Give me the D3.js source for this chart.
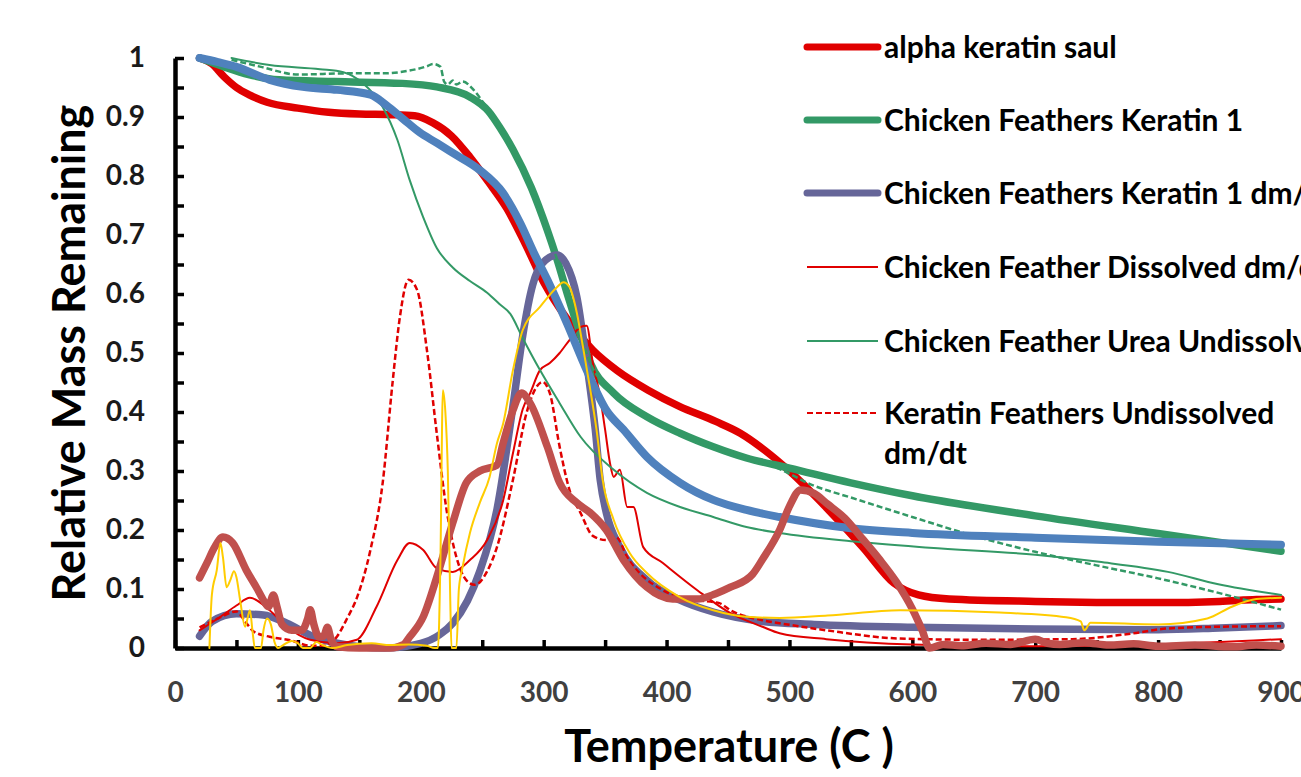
<!DOCTYPE html>
<html><head><meta charset="utf-8">
<script src="https://cdn.jsdelivr.net/npm/d3@7"></script>
<style>
body{margin:0;background:#fff}
svg{display:block}
text{font-family:Lato,"Open Sans",sans-serif;font-weight:700}
</style>
</head><body><svg id="chart" width="1301" height="777"></svg>
<script>
// ---------- data (temperature °C, relative value) ----------
const xTickLabels = ["0","100","200","300","400","500","600","700","800","900"];
const yTickLabels = ["0","0.1","0.2","0.3","0.4","0.5","0.6","0.7","0.8","0.9","1"];

const alphaKeratinSaul = [[20,1.0],[30,0.99],[40,0.968],[50,0.95],[60,0.938],[75,0.925],[100,0.915],[125,0.908],[150,0.905],[175,0.904],[195,0.902],[210,0.89],[225,0.868],[240,0.832],[255,0.79],[270,0.745],[285,0.685],[300,0.62],[320,0.555],[340,0.505],[360,0.47],[385,0.437],[410,0.41],[440,0.384],[460,0.364],[480,0.335],[500,0.3],[530,0.238],[560,0.17],[585,0.11],[605,0.09],[630,0.083],[700,0.079],[800,0.077],[850,0.079],[880,0.082],[900,0.083]];

const cfKeratin1 = [[20,1.0],[40,0.985],[60,0.972],[85,0.963],[130,0.96],[185,0.957],[213,0.951],[240,0.934],[255,0.91],[265,0.88],[275,0.845],[290,0.78],[303,0.708],[311,0.658],[320,0.595],[330,0.53],[338,0.483],[357,0.432],[384,0.392],[411,0.364],[438,0.341],[465,0.322],[500,0.305],[550,0.28],[600,0.258],[700,0.224],[800,0.194],[900,0.164]];

const cfKeratin1dmdt = [[20,0.02],[30,0.045],[50,0.058],[72,0.056],[91,0.042],[112,0.02],[132,0.008],[170,0.0],[200,0.008],[215,0.022],[226,0.042],[238,0.08],[248,0.13],[262,0.235],[275,0.41],[283,0.53],[291,0.615],[299,0.652],[311,0.666],[318,0.652],[327,0.595],[335,0.483],[342,0.37],[346,0.285],[351,0.229],[362,0.171],[384,0.115],[411,0.081],[438,0.061],[478,0.045],[520,0.04],[600,0.035],[700,0.032],[800,0.031],[850,0.034],[900,0.038]];

const cfDissolvedDmdt = [[20,0.03],[37,0.053],[50,0.072],[61,0.085],[77,0.064],[91,0.036],[110,0.014],[132,0.008],[148,0.014],[164,0.07],[181,0.149],[191,0.178],[202,0.166],[213,0.135],[226,0.129],[240,0.149],[254,0.183],[267,0.25],[275,0.33],[283,0.405],[289,0.432],[297,0.471],[305,0.483],[313,0.5],[321,0.522],[330,0.544],[335,0.546],[340,0.483],[346,0.425],[350,0.37],[354,0.313],[357,0.29],[362,0.302],[368,0.239],[373,0.239],[381,0.171],[397,0.144],[425,0.098],[452,0.059],[478,0.036],[492,0.025],[530,0.015],[600,0.006],[700,0.003],[800,0.006],[900,0.015]];

const cfUreaUndissolved = [[46,1.0],[77,0.988],[118,0.981],[137,0.976],[153,0.957],[169,0.917],[181,0.861],[191,0.793],[202,0.73],[213,0.678],[226,0.645],[240,0.622],[254,0.602],[264,0.583],[273,0.566],[283,0.525],[297,0.471],[313,0.415],[330,0.358],[357,0.302],[384,0.263],[411,0.239],[438,0.222],[465,0.205],[492,0.195],[550,0.181],[614,0.17],[700,0.158],[752,0.146],[808,0.129],[849,0.108],[900,0.09]];

const kfUndissolvedDmdt = [[20,0.035],[35,0.05],[50,0.062],[57,0.045],[64,0.028],[77,0.019],[94,0.013],[110,0.004],[122,0.004],[132,0.02],[140,0.05],[148,0.085],[159,0.166],[169,0.28],[177,0.449],[183,0.561],[190,0.624],[197,0.607],[205,0.505],[213,0.364],[221,0.234],[229,0.154],[237,0.115],[244,0.107],[254,0.13],[262,0.171],[275,0.285],[286,0.398],[294,0.442],[299,0.451],[305,0.432],[313,0.341],[321,0.268],[330,0.229],[340,0.19],[351,0.183],[359,0.188],[368,0.154],[397,0.098],[425,0.081],[443,0.076],[452,0.064],[478,0.047],[492,0.042],[530,0.03],[590,0.016],[650,0.014],[730,0.015],[780,0.025],[807,0.033],[850,0.036],[900,0.037]];

const massBlue = [[20,1.0],[35,0.993],[50,0.985],[77,0.963],[104,0.951],[132,0.946],[159,0.938],[172,0.92],[186,0.896],[199,0.874],[213,0.856],[226,0.839],[248,0.81],[267,0.771],[281,0.72],[292,0.67],[303,0.624],[319,0.55],[335,0.471],[351,0.403],[365,0.37],[384,0.324],[411,0.28],[438,0.251],[465,0.234],[492,0.222],[550,0.203],[600,0.195],[700,0.187],[800,0.18],[900,0.175]];

const massGreenDashed = [[46,0.997],[70,0.985],[100,0.972],[142,0.974],[169,0.974],[189,0.978],[205,0.986],[210,0.99],[216,0.985],[219,0.96],[222,0.955],[226,0.962],[229,0.955],[234,0.96],[243,0.946],[251,0.924],[262,0.89],[275,0.845],[290,0.78],[303,0.708],[311,0.658],[320,0.595],[330,0.53],[338,0.483],[357,0.432],[384,0.392],[411,0.364],[438,0.341],[465,0.322],[490,0.305],[520,0.275],[550,0.255],[600,0.222],[650,0.19],[700,0.163],[750,0.14],[800,0.118],[850,0.093],[900,0.065]];

const dmdtBrown = [[20,0.119],[26,0.144],[32,0.17],[39,0.188],[47,0.178],[58,0.132],[67,0.1],[72,0.081],[76,0.07],[80,0.09],[83,0.07],[87,0.04],[95,0.03],[103,0.03],[108,0.05],[110,0.065],[113,0.04],[117,0.019],[121,0.02],[124,0.035],[127,0.015],[132,0.002],[150,0.0],[175,0.0],[186,0.006],[191,0.019],[202,0.053],[213,0.12],[226,0.212],[237,0.28],[248,0.3],[262,0.31],[267,0.347],[275,0.403],[282,0.432],[289,0.415],[303,0.341],[313,0.28],[327,0.246],[338,0.229],[351,0.2],[365,0.149],[384,0.103],[405,0.083],[425,0.083],[440,0.092],[452,0.103],[470,0.125],[478,0.15],[492,0.2],[500,0.24],[509,0.268],[520,0.262],[531,0.244],[545,0.22],[559,0.186],[573,0.151],[587,0.112],[600,0.066],[608,0.03],[614,0.0],[625,0.006],[640,0.004],[660,0.008],[680,0.006],[700,0.015],[710,0.008],[720,0.006],[740,0.009],[760,0.005],[780,0.007],[800,0.003],[830,0.005],[860,0.002],[880,0.005],[900,0.003]];

const dmdtYellow = [[28,0.0],[30,0.09],[34,0.132],[37,0.178],[39,0.154],[42,0.103],[45,0.115],[48,0.13],[50,0.12],[53,0.081],[57,0.036],[61,0.064],[63,0.03],[65,0.0],[70,0.0],[72,0.03],[75,0.05],[78,0.04],[81,0.01],[84,0.0],[88,0.005],[95,0.012],[100,0.008],[104,0.0],[110,0.0],[115,0.01],[120,0.005],[128,0.0],[140,0.005],[160,0.008],[175,0.005],[190,0.006],[205,0.004],[211,0.0],[214,0.0],[216,0.15],[218,0.437],[220,0.4],[222,0.3],[224,0.08],[225,0.0],[229,0.0],[231,0.1],[234,0.137],[240,0.195],[248,0.246],[256,0.29],[262,0.347],[267,0.38],[275,0.471],[283,0.539],[297,0.578],[311,0.612],[316,0.62],[321,0.612],[327,0.568],[332,0.51],[338,0.437],[343,0.37],[348,0.285],[357,0.217],[370,0.161],[384,0.127],[411,0.086],[438,0.064],[465,0.053],[492,0.051],[531,0.055],[590,0.064],[671,0.06],[725,0.052],[737,0.045],[740,0.03],[745,0.043],[800,0.04],[840,0.05],[860,0.07],[880,0.083],[900,0.085]];

// ---------- series styling (drawing order = later on top) ----------
const series = [
  {name:"alpha keratin saul", data:alphaKeratinSaul, color:"#e00000", width:7.5, dash:null},
  {name:"Chicken Feathers Keratin 1", data:cfKeratin1, color:"#339966", width:7.5, dash:null},
  {name:"Chicken Feathers Keratin 1 dm/dt", data:cfKeratin1dmdt, color:"#666699", width:7.5, dash:null},
  {name:"Chicken Feather Dissolved dm/dt", data:cfDissolvedDmdt, color:"#e00000", width:2, dash:null},
  {name:"Chicken Feather Urea Undissolved", data:cfUreaUndissolved, color:"#339966", width:2, dash:null},
  {name:"Keratin Feathers Undissolved dm/dt", data:kfUndissolvedDmdt, color:"#e00000", width:2.5, dash:"6,3"},
  {name:"mass green dashed", data:massGreenDashed, color:"#339966", width:2.5, dash:"6,3"},
  {name:"mass blue", data:massBlue, color:"#4f81bd", width:8, dash:null},
  {name:"dmdt brown", data:dmdtBrown, color:"#c0504d", width:7.5, dash:null},
  {name:"dmdt yellow", data:dmdtYellow, color:"#ffcc00", width:2, dash:null}
];
const legendEntries = [
  {lines:["alpha keratin saul"], s:0},
  {lines:["Chicken Feathers Keratin 1"], s:1},
  {lines:["Chicken Feathers Keratin 1 dm/dt"], s:2},
  {lines:["Chicken Feather Dissolved dm/dt"], s:3},
  {lines:["Chicken Feather Urea Undissolved"], s:4},
  {lines:["Keratin Feathers Undissolved","dm/dt"], s:5}
];

// ---------- chart ----------
const svg = d3.select("#chart");
const x = d3.scaleLinear().domain([0,900]).range([175,1281]);
const y = d3.scaleLinear().domain([0,1]).range([648,58]);

const yTickVals = d3.range(0,21).map(i=>i*0.05);
const xTickVals = d3.range(0,19).map(i=>i*50);

const yAxis = d3.axisLeft(y).tickValues(yTickVals).tickSize(-9).tickSizeOuter(0).tickPadding(30)
  .tickFormat((d,i)=> i%2===0 ? yTickLabels[i/2] : "");
const xAxis = d3.axisBottom(x).tickValues(xTickVals).tickSize(-8).tickSizeOuter(0).tickPadding(34)
  .tickFormat((d,i)=> i%2===0 ? xTickLabels[i/2] : "");

const gy = svg.append("g").attr("transform","translate(175,0)").call(yAxis);
const gx = svg.append("g").attr("transform","translate(0,648)").call(xAxis);
[gy,gx].forEach(g=>{
  g.select(".domain").attr("stroke","#000").attr("stroke-width",4.5);
  g.selectAll(".tick line").attr("stroke","#000").attr("stroke-width",3.5);
  g.selectAll(".tick text").attr("font-size",28).attr("font-family","Lato").attr("font-weight",700);
});
gy.selectAll(".tick text").attr("fill","#1a1a1a");
gx.selectAll(".tick text").attr("fill","#404040");

const line = d3.line().x(d=>x(d[0])).y(d=>y(d[1])).curve(d3.curveMonotoneX);
svg.append("g").selectAll("path").data(series).join("path")
  .attr("d",d=>line(d.data))
  .attr("fill","none")
  .attr("stroke",d=>d.color)
  .attr("stroke-width",d=>d.width)
  .attr("stroke-dasharray",d=>d.dash)
  .attr("stroke-linecap",d=>d.dash?"butt":"round")
  .attr("stroke-linejoin","round");

// axis titles
svg.append("text").attr("x",729).attr("y",762).attr("text-anchor","middle")
  .attr("font-size",45).attr("fill","#000").text("Temperature (C )");
svg.append("text").attr("transform","translate(85,353) rotate(-90)").attr("text-anchor","middle")
  .attr("font-size",45).attr("fill","#000").text("Relative Mass Remaining");

// legend
const legY = [47,120,193,267,341,413];
const leg = svg.append("g");
legendEntries.forEach((e,i)=>{
  const s = series[e.s];
  const yy = legY[i];
  leg.append("line").attr("x1",807).attr("x2",878).attr("y1",yy).attr("y2",yy)
    .attr("stroke",s.color).attr("stroke-width",s.width>4?7:2.2)
    .attr("stroke-dasharray",s.dash).attr("stroke-linecap",s.width>4?"round":"butt");
  e.lines.forEach((t,j)=>{
    leg.append("text").attr("x",884).attr("y",yy+j*40).attr("dy","0.35em")
      .attr("font-size",30).attr("fill","#000").text(t);
  });
});
</script></body></html>
